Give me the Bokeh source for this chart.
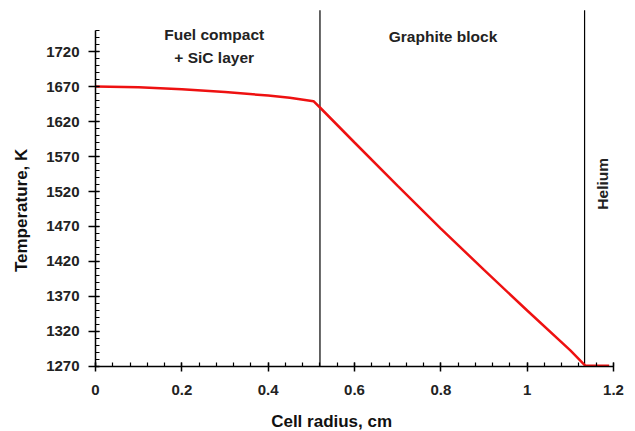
from bokeh.plotting import figure
from bokeh.models import FixedTicker, Range1d, Label
from bokeh.embed import file_html
from bokeh.resources import INLINE

# data
radius_cm = [0.0, 0.1, 0.2, 0.3, 0.4, 0.45, 0.505, 0.52, 0.6, 0.7, 0.8, 0.9, 1.0, 1.1, 1.135, 1.19]
temperature_K = [1670, 1669, 1666, 1662, 1657, 1654, 1649, 1640, 1590, 1528, 1467, 1408, 1350, 1293, 1271, 1271]
boundaries_cm = [0.52, 1.133]
x_ticks = [0, 0.2, 0.4, 0.6, 0.8, 1.0, 1.2]
x_tick_labels = ["0", "0.2", "0.4", "0.6", "0.8", "1", "1.2"]
y_ticks = [1270, 1320, 1370, 1420, 1470, 1520, 1570, 1620, 1670, 1720]
region_labels = ["Fuel compact\n+ SiC layer", "Graphite block", "Helium"]
x_title = "Cell radius, cm"
y_title = "Temperature, K"

FONT = "Liberation Sans"

# the frame spans the whole canvas; axes are pinned at x=0 and T=1270
p = figure(width=635, height=431, output_backend="svg", toolbar_location=None,
           x_range=Range1d(-0.22008, 1.25096), y_range=Range1d(1177.14, 1792.86))
p.min_border = 0
p.outline_line_color = None
p.grid.visible = False
p.background_fill_color = "white"
p.border_fill_color = "white"

# boundaries
p.segment(x0=boundaries_cm, x1=boundaries_cm, y0=[1270] * 2, y1=[1779] * 2,
          line_color="black", line_width=1.2)

# temperature profile
p.line(radius_cm, temperature_K, line_color="#ee1111", line_width=2.5)

# axes
xa = p.xaxis[0]
xa.ticker = FixedTicker(ticks=x_ticks, minor_ticks=[i * 0.04 for i in range(31)])
xa.major_label_overrides = {t: l for t, l in zip(x_ticks, x_tick_labels)}
xa.bounds = (0, 1.2)
xa.fixed_location = 1270

ya = p.yaxis[0]
ya.ticker = FixedTicker(ticks=y_ticks, minor_ticks=list(range(1270, 1751, 10)))
ya.bounds = (1270, 1750)
ya.fixed_location = 0

for ax in (xa, ya):
    ax.axis_line_color = "black"
    ax.axis_line_width = 1.5
    ax.major_tick_line_color = "black"
    ax.major_tick_line_width = 1.5
    ax.minor_tick_line_color = "black"
    ax.minor_tick_line_width = 1.2
    ax.major_label_text_font = FONT
    ax.major_label_text_font_style = "bold"
    ax.major_label_text_font_size = "15px"
    ax.major_label_text_color = "#222222"

xa.major_tick_in = 4
xa.major_tick_out = 5
xa.minor_tick_in = 4
xa.minor_tick_out = 0
xa.major_label_standoff = 14

ya.major_tick_in = 4
ya.major_tick_out = 7
ya.minor_tick_in = 4
ya.minor_tick_out = 0
ya.major_label_standoff = 9

# axis titles
p.add_layout(Label(x=0.547, y=1191, text=x_title, text_align="center",
                   text_baseline="middle", text_font=FONT, text_font_style="bold",
                   text_font_size="17px", text_color="#111111"))
p.add_layout(Label(x=-0.171, y=1493, text=y_title, text_align="center",
                   text_baseline="middle", angle=1.5708, text_font=FONT,
                   text_font_style="bold", text_font_size="17px", text_color="#111111"))

# region labels
p.add_layout(Label(x=0.275, y=1756, text=region_labels[0], text_align="center",
                   text_baseline="top", text_font=FONT, text_font_style="bold",
                   text_font_size="15.5px", text_color="#222222", text_line_height=1.35))
p.add_layout(Label(x=0.805, y=1754, text=region_labels[1], text_align="center",
                   text_baseline="top", text_font=FONT, text_font_style="bold",
                   text_font_size="15.5px", text_color="#222222"))
p.add_layout(Label(x=1.174, y=1531, text=region_labels[2], text_align="center",
                   text_baseline="middle", angle=1.5708, text_font=FONT,
                   text_font_style="bold", text_font_size="15.5px", text_color="#222222"))

open("out.html", "w").write(file_html(p, INLINE))
